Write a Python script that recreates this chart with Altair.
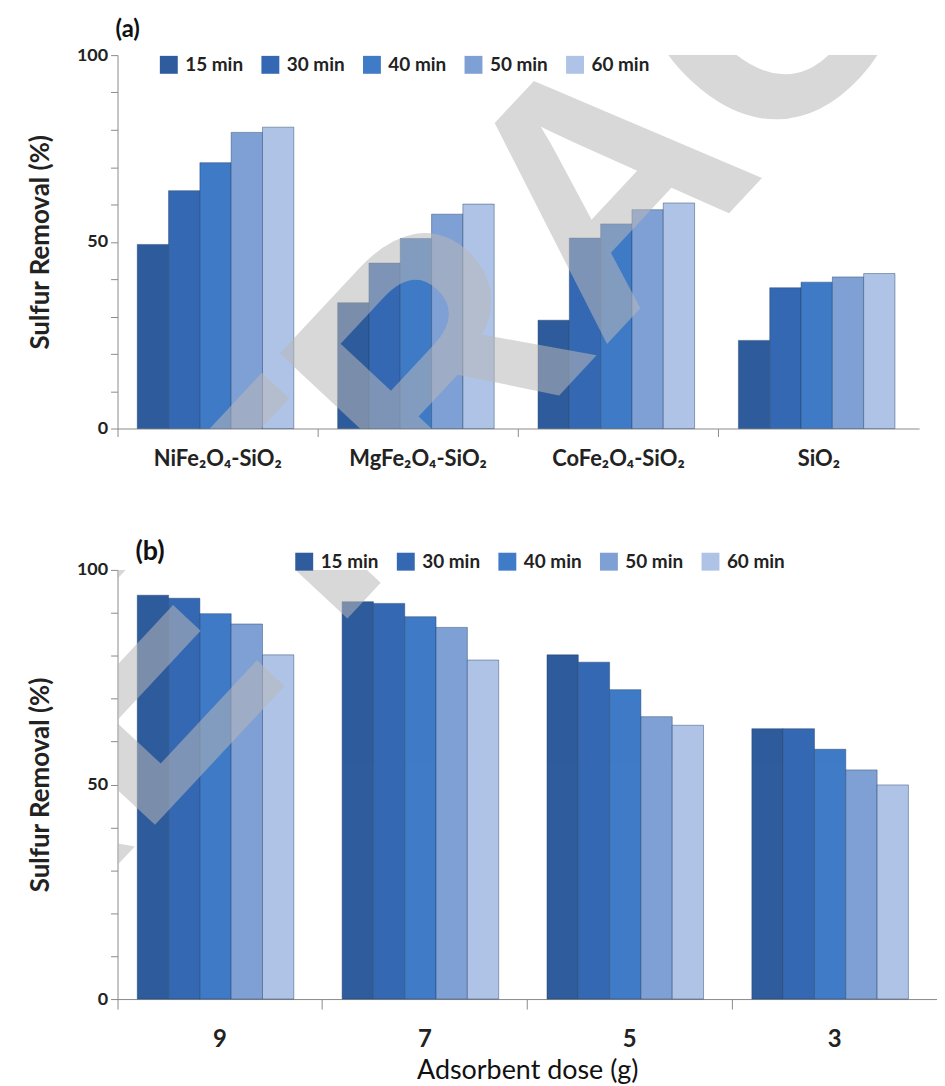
import altair as alt
import pandas as pd

times = ["15 min", "30 min", "40 min", "50 min", "60 min"]
colors = ["#2F5C9C", "#3568B3", "#3F7BC6", "#7FA0D4", "#AFC3E7"]

adsorbents = ["NiFe₂O₄-SiO₂", "MgFe₂O₄-SiO₂", "CoFe₂O₄-SiO₂", "SiO₂"]
a_15 = [49.3, 33.7, 29.0, 23.6]
a_30 = [63.7, 44.3, 51.0, 37.7]
a_40 = [71.2, 50.9, 54.8, 39.2]
a_50 = [79.3, 57.4, 58.6, 40.6]
a_60 = [80.7, 60.1, 60.4, 41.5]

doses = ["9", "7", "5", "3"]
b_15 = [94.1, 92.6, 80.2, 63.0]
b_30 = [93.4, 92.2, 78.5, 63.0]
b_40 = [89.8, 89.1, 72.1, 58.2]
b_50 = [87.4, 86.6, 65.8, 53.4]
b_60 = [80.2, 79.0, 63.8, 49.9]

y_ticks = list(range(0, 101, 10))
watermark = ["RETRACTED"]

FONT = "Lato"


def long_df(cats, series, catname):
    rows = []
    for t, vals in zip(times, series):
        for c, v in zip(cats, vals):
            rows.append({catname: c, "time": t, "removal": v})
    return pd.DataFrame(rows)


df_a = long_df(adsorbents, [a_15, a_30, a_40, a_50, a_60], "cat")
df_b = long_df(doses, [b_15, b_30, b_40, b_50, b_60], "cat")


def y_axis():
    return alt.Axis(
        values=y_ticks,
        labelExpr="datum.value % 50 == 0 ? datum.label : ''",
        title="Sulfur Removal (%)",
        titleFontSize=26, titleFontWeight="bold", titleFont=FONT, titleColor="#222222",
        titlePadding=23,
        labelFontSize=18, labelFontWeight="bold", labelFont=FONT, labelColor="#222222",
        labelPadding=3, tickSize=7, tickColor="#8a8a8a", domainColor="#8a8a8a",
        grid=False,
    )


def legend(x, y):
    return alt.Legend(
        title=None, orient="none", legendX=x, legendY=y, direction="horizontal",
        symbolType="square", symbolSize=324, symbolStrokeWidth=0,
        labelFontSize=19, labelFontWeight="bold", labelFont=FONT, labelColor="#222222",
        labelOffset=7, columnPadding=17,
    )


def wm_layer(cx, cy):
    return alt.Chart(pd.DataFrame({"t": watermark})).mark_text(
        angle=313, fontSize=340, font="Liberation Sans", fontWeight="bold",
        color="#b8b8b8", opacity=0.55, align="center", baseline="middle", clip=True,
    ).encode(text="t:N", x=alt.value(cx), y=alt.value(cy))


bars_a = alt.Chart(df_a).mark_bar(stroke="#1f3d66", strokeWidth=0.8, strokeOpacity=0.55).encode(
    x=alt.X("cat:N", sort=adsorbents,
            scale=alt.Scale(paddingInner=0, paddingOuter=0),
            axis=alt.Axis(title=None, bandPosition=0, labelAngle=0,
                          labelFontSize=22, labelFontWeight="bold", labelFont=FONT,
                          labelColor="#222222", labelPadding=12, tickSize=8,
                          tickColor="#8a8a8a", domainColor="#8a8a8a")),
    xOffset=alt.XOffset("time:N", sort=times,
                        scale=alt.Scale(paddingInner=0, paddingOuter=0.7, align=0.45)),
    y=alt.Y("removal:Q", scale=alt.Scale(domain=[0, 100], nice=False), axis=y_axis()),
    color=alt.Color("time:N", sort=times, scale=alt.Scale(domain=times, range=colors),
                    legend=legend(42, 0)),
)

chart_a = alt.layer(bars_a, wm_layer(495, 137)).properties(
    width=805, height=375,
    title=alt.TitleParams("(a)", anchor="start", frame="group", dx=-2, offset=4,
                          fontSize=24, fontWeight="bold", font=FONT, color="#111111"),
)

bars_b = alt.Chart(df_b).mark_bar(stroke="#1f3d66", strokeWidth=0.8, strokeOpacity=0.55).encode(
    x=alt.X("cat:N", sort=doses,
            scale=alt.Scale(paddingInner=0, paddingOuter=0),
            axis=alt.Axis(title="Adsorbent dose (g)", bandPosition=0, labelAngle=0,
                          labelFontSize=24, labelFontWeight="bold", labelFont=FONT,
                          labelColor="#222222", labelPadding=19, tickSize=10,
                          tickColor="#8a8a8a", domainColor="#8a8a8a",
                          titleFontSize=27, titleFontWeight="normal", titleFont=FONT,
                          titleColor="#111111", titlePadding=6)),
    xOffset=alt.XOffset("time:N", sort=times,
                        scale=alt.Scale(paddingInner=0, paddingOuter=0.675, align=0.59)),
    y=alt.Y("removal:Q", scale=alt.Scale(domain=[0, 100], nice=False), axis=y_axis()),
    color=alt.Color("time:N", sort=times, scale=alt.Scale(domain=times, range=colors),
                    legend=legend(178, -18)),
)

chart_b = alt.layer(bars_b, wm_layer(495, -384)).properties(
    width=823, height=431,
    title=alt.TitleParams("(b)", anchor="start", frame="group", dx=18, offset=-14,
                          fontSize=27, fontWeight="bold", font=FONT, color="#111111"),
)

chart = alt.vconcat(chart_a, chart_b, spacing=69).resolve_scale(
    color="independent", x="independent", y="independent"
).properties(
    padding={"top": 8, "left": 19, "right": 0, "bottom": 0}
).configure_view(stroke=None)

chart.save("out.html", embed_options={"renderer": "svg", "actions": False})
